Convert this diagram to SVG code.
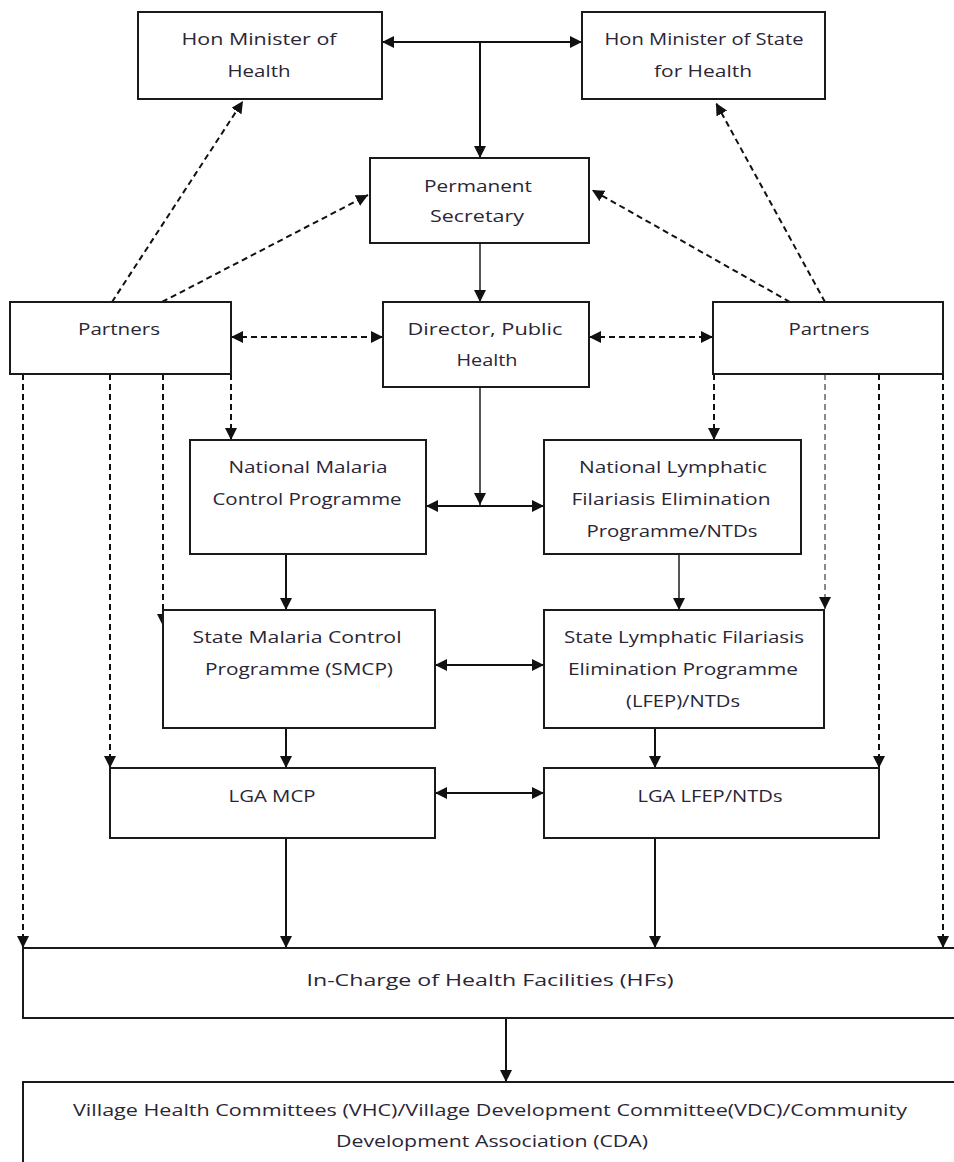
<svg xmlns="http://www.w3.org/2000/svg" width="954" height="1162" viewBox="0 0 954 1162">
<style>
.box{fill:#fff;stroke:#1a1a1a;stroke-width:2}
.t{font-family:"Open Sans","Liberation Sans",sans-serif;font-size:16px;fill:#2a2636;text-anchor:middle}
.c{fill:none;stroke:#111;stroke-width:2}
.g{stroke:#555}
.d{stroke-dasharray:6 4}
.lg{stroke:#8a8a8a}
</style>
<defs>
<marker id="ah" viewBox="0 0 10 10" refX="10" refY="5" markerWidth="12" markerHeight="12" markerUnits="userSpaceOnUse" orient="auto-start-reverse">
<path d="M0,0 L10,5 L0,10 z" fill="#111"/>
</marker>
</defs>
<rect width="954" height="1162" fill="#fff"/>

<g id="connectors">
<path class="c" d="M382,42 H582" marker-start="url(#ah)" marker-end="url(#ah)"/>
<path class="c" d="M480,42 V158" marker-end="url(#ah)"/>
<path class="c g" d="M480,243 V302" marker-end="url(#ah)"/>
<path class="c g" d="M480,387 V505" marker-end="url(#ah)"/>
<path class="c" d="M426,506 H544" marker-start="url(#ah)" marker-end="url(#ah)"/>
<path class="c" d="M286,554 V610" marker-end="url(#ah)"/>
<path class="c g" d="M679,554 V610" marker-end="url(#ah)"/>
<path class="c" d="M435,665 H544" marker-start="url(#ah)" marker-end="url(#ah)"/>
<path class="c" d="M286,728 V768" marker-end="url(#ah)"/>
<path class="c" d="M655,728 V768" marker-end="url(#ah)"/>
<path class="c" d="M435,793 H544" marker-start="url(#ah)" marker-end="url(#ah)"/>
<path class="c" d="M286,838 V948" marker-end="url(#ah)"/>
<path class="c" d="M655,838 V948" marker-end="url(#ah)"/>
<path class="c" d="M506,1018 V1082" marker-end="url(#ah)"/>

<path class="c d" d="M112,302 L243,101" marker-end="url(#ah)"/>
<path class="c d" d="M162,302 L368,195" marker-end="url(#ah)"/>
<path class="c d" d="M825,302 L716,103" marker-end="url(#ah)"/>
<path class="c d" d="M790,302 L592,190" marker-end="url(#ah)"/>
<path class="c d" d="M231,337 H383" marker-start="url(#ah)" marker-end="url(#ah)"/>
<path class="c d" d="M589,337 H713" marker-start="url(#ah)" marker-end="url(#ah)"/>

<path class="c d" d="M23,374 V948" marker-end="url(#ah)"/>
<path class="c d" d="M110,374 V768" marker-end="url(#ah)"/>
<path class="c d" d="M163,374 V626" marker-end="url(#ah)"/>
<path class="c d" d="M231,374 V440" marker-end="url(#ah)"/>
<path class="c d" d="M714,374 V440" marker-end="url(#ah)"/>
<path class="c d lg" d="M825,374 V609" marker-end="url(#ah)"/>
<path class="c d" d="M879,374 V768" marker-end="url(#ah)"/>
<path class="c d" d="M943,374 V948" marker-end="url(#ah)"/>
</g>

<g id="hon-minister">
<rect class="box" x="138" y="12" width="244" height="87"/>
<text class="t" x="259" y="45" textLength="155" lengthAdjust="spacingAndGlyphs">Hon Minister of</text>
<text class="t" x="259" y="77" textLength="63" lengthAdjust="spacingAndGlyphs">Health</text>
</g>

<g id="hon-minister-state">
<rect class="box" x="582" y="12" width="243" height="87"/>
<text class="t" x="704" y="45" textLength="199" lengthAdjust="spacingAndGlyphs">Hon Minister of State</text>
<text class="t" x="703" y="77" textLength="98" lengthAdjust="spacingAndGlyphs">for Health</text>
</g>

<g id="permanent-secretary">
<rect class="box" x="370" y="158" width="219" height="85"/>
<text class="t" x="478" y="192" textLength="108" lengthAdjust="spacingAndGlyphs">Permanent</text>
<text class="t" x="477" y="222" textLength="94" lengthAdjust="spacingAndGlyphs">Secretary</text>
</g>

<g id="partners-left">
<rect class="box" x="10" y="302" width="221" height="72"/>
<text class="t" x="119" y="335" textLength="82" lengthAdjust="spacingAndGlyphs">Partners</text>
</g>

<g id="director">
<rect class="box" x="383" y="302" width="206" height="85"/>
<text class="t" x="485" y="335" textLength="155" lengthAdjust="spacingAndGlyphs">Director, Public</text>
<text class="t" x="487" y="366" textLength="61" lengthAdjust="spacingAndGlyphs">Health</text>
</g>

<g id="partners-right">
<rect class="box" x="713" y="302" width="230" height="72"/>
<text class="t" x="829" y="335" textLength="81" lengthAdjust="spacingAndGlyphs">Partners</text>
</g>

<g id="nmcp">
<rect class="box" x="190" y="440" width="236" height="114"/>
<text class="t" x="308" y="473" textLength="159" lengthAdjust="spacingAndGlyphs">National Malaria</text>
<text class="t" x="307" y="505" textLength="189" lengthAdjust="spacingAndGlyphs">Control Programme</text>
</g>

<g id="nlfep">
<rect class="box" x="544" y="440" width="257" height="114"/>
<text class="t" x="673" y="473" textLength="188" lengthAdjust="spacingAndGlyphs">National Lymphatic</text>
<text class="t" x="671" y="505" textLength="199" lengthAdjust="spacingAndGlyphs">Filariasis Elimination</text>
<text class="t" x="672" y="537" textLength="171" lengthAdjust="spacingAndGlyphs">Programme/NTDs</text>
</g>

<g id="smcp">
<rect class="box" x="163" y="610" width="272" height="118"/>
<text class="t" x="297" y="643" textLength="209" lengthAdjust="spacingAndGlyphs">State Malaria Control</text>
<text class="t" x="299" y="675" textLength="188" lengthAdjust="spacingAndGlyphs">Programme (SMCP)</text>
</g>

<g id="slfep">
<rect class="box" x="544" y="610" width="280" height="118"/>
<text class="t" x="684" y="643" textLength="240" lengthAdjust="spacingAndGlyphs">State Lymphatic Filariasis</text>
<text class="t" x="683" y="675" textLength="230" lengthAdjust="spacingAndGlyphs">Elimination Programme</text>
<text class="t" x="683" y="707" textLength="114" lengthAdjust="spacingAndGlyphs">(LFEP)/NTDs</text>
</g>

<g id="lga-mcp">
<rect class="box" x="110" y="768" width="325" height="70"/>
<text class="t" x="272" y="802" textLength="87" lengthAdjust="spacingAndGlyphs">LGA MCP</text>
</g>

<g id="lga-lfep">
<rect class="box" x="544" y="768" width="335" height="70"/>
<text class="t" x="710" y="802" textLength="145" lengthAdjust="spacingAndGlyphs">LGA LFEP/NTDs</text>
</g>

<g id="in-charge">
<rect class="box" x="23" y="948" width="945" height="70"/>
<text class="t" x="490" y="986" font-size="19" textLength="367" lengthAdjust="spacingAndGlyphs">In-Charge of Health Facilities (HFs)</text>
</g>

<g id="village">
<rect class="box" x="23" y="1082" width="945" height="100"/>
<text class="t" x="490" y="1116" textLength="834" lengthAdjust="spacingAndGlyphs">Village Health Committees (VHC)/Village Development Committee(VDC)/Community</text>
<text class="t" x="492" y="1147" textLength="312" lengthAdjust="spacingAndGlyphs">Development Association (CDA)</text>
</g>
</svg>
